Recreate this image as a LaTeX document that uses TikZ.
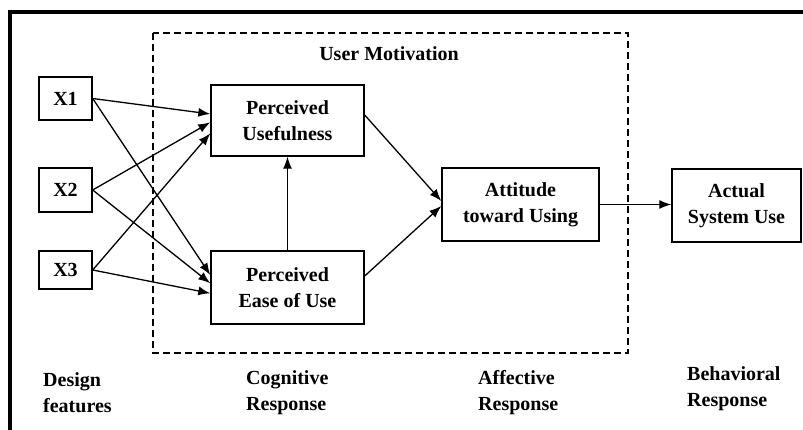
\documentclass[tikz,border=0pt]{standalone}
\usepackage{fontspec}
\setmainfont{Liberation Serif}
\usetikzlibrary{arrows.meta}
\begin{document}
\begin{tikzpicture}[x=1pt, y=-1pt, font=\fontsize{20}{26}\selectfont\bfseries,
    box/.style={draw, line width=1.4pt, align=center, inner sep=0pt},
    link/.style={-{Latex[length=12pt, width=9pt]}, line width=1.3pt},
    caption/.style={align=left, anchor=base west, inner sep=0pt}]
  \useasboundingbox (0,0) rectangle (803,430);
  \draw[line width=3.5pt] (10,432) -- (10,12) -- (805,12);
  \draw[line width=1.8pt, dash pattern=on 7pt off 4pt] (153,33) rectangle (628,353);
  \node (motiv) at (389,54) {User Motivation};
  \foreach \n/\y/\h in {1/98.5/43, 2/190/44, 3/270/38} {
    \node[box, minimum width=53pt, minimum height=\h pt] (x\n) at (65.5,\y) {X\n};
  }
  \node[box, minimum width=153pt, minimum height=71pt] (pu) at (287.5,120.5) {Perceived\\Usefulness};
  \node[box, minimum width=153pt, minimum height=73pt] (peou) at (287.5,287.5) {Perceived\\Ease of Use};
  \node[box, minimum width=157pt, minimum height=73pt] (att) at (520.5,204.5) {Attitude\\toward Using};
  \node[box, minimum width=129pt, minimum height=73pt] (asu) at (736.5,205.5) {Actual\\System Use};
  \foreach \s/\t/\d in {x1/pu/6.5, x2/pu/-1.8, x3/pu/-12.8,
      x1/peou/12.5, x2/peou/4.2, x3/peou/-5.8} {
    \draw[link] (\s.east) -- ([yshift=\d pt]\t.west);
  }
  \draw[link] (peou.north) -- (pu.south);
  \draw[link] ([yshift=5.5pt]pu.east) -- ([yshift=3.5pt]att.west);
  \draw[link] ([yshift=11.5pt]peou.east) -- ([yshift=-1.5pt]att.west);
  \draw[link] (att.east) -- (att.east -| asu.west);
  \foreach \x/\y/\t [count=\i] in {43/412/{Design\\features}, 246/410.7/{Cognitive\\Response},
      478/410.7/{Affective\\Response}, 687/406/{Behavioral\\Response}} {
    \node[caption] (lbl\i) at (\x,\y) {\t};
  }
\end{tikzpicture}
\end{document}
